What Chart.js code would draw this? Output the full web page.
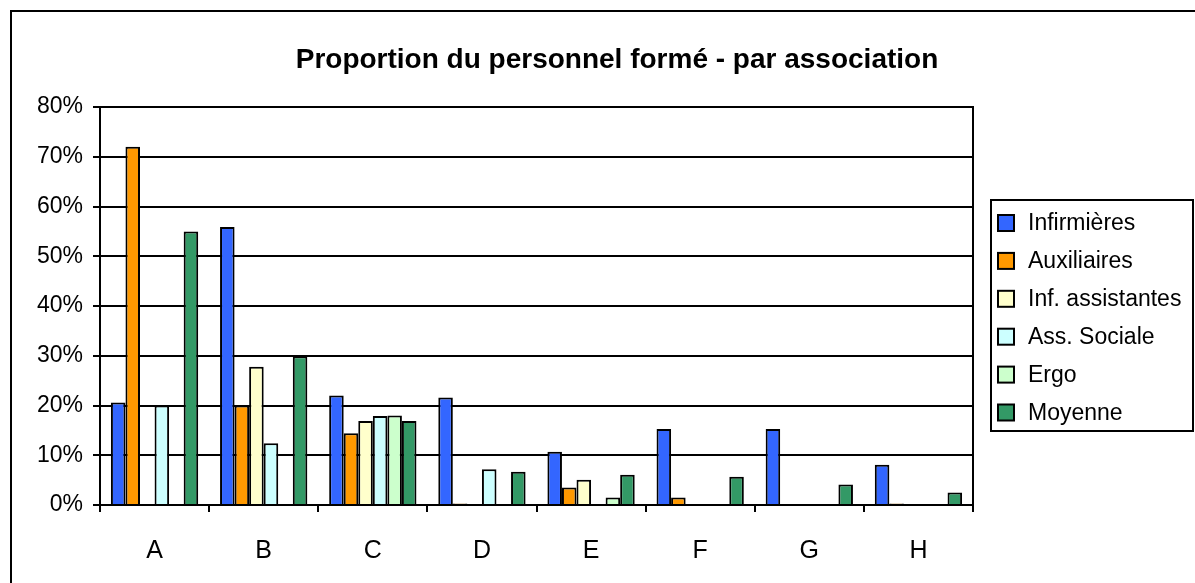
<!DOCTYPE html>
<html>
<head>
<meta charset="utf-8">
<script src="https://cdn.jsdelivr.net/npm/chart.js@4.4.1/dist/chart.umd.min.js"></script>
<style>
  html, body { margin: 0; padding: 0; background: #fff; }
  #wrap { width: 1195px; height: 583px; position: relative; }
</style>
</head>
<body>
<div id="wrap"><canvas id="formChart" width="1195" height="583"></canvas></div>
<script>
const associations = ['A', 'B', 'C', 'D', 'E', 'F', 'G', 'H'];
const yTicks = [0, 0.1, 0.2, 0.3, 0.4, 0.5, 0.6, 0.7, 0.8];

// proportions (null = no bar)
const infirmieres     = [0.206, 0.559, 0.220, 0.216, 0.107, 0.153, 0.153, 0.081];
const auxiliaires     = [0.720, 0.200, 0.144, 0.003, 0.035, 0.015, null, 0.003];
const infAssistantes  = [null, 0.278, 0.169, null, 0.051, null, null, null];
const assSociale      = [0.200, 0.124, 0.179, 0.072, null, null, null, null];
const ergo            = [null, null, 0.180, null, 0.015, null, null, null];
const moyenne         = [0.550, 0.299, 0.169, 0.067, 0.061, 0.057, 0.041, 0.025];

const FONT = '"Liberation Sans", Arial, sans-serif';

// outer frame, plot frame, title and boxed legend
const decor = {
    id: 'decor',
    beforeDraw(chart) {
        const c = chart.ctx;
        c.save();
        c.fillStyle = '#fff';
        c.fillRect(0, 0, chart.width, chart.height);
        c.strokeStyle = '#000';
        c.lineWidth = 2;
        c.strokeRect(11, 11, 1300, 700);
        c.restore();
    },
    afterDraw(chart) {
        const c = chart.ctx;
        const a = chart.chartArea;
        c.save();
        c.strokeStyle = '#000';
        c.lineWidth = 2;
        c.beginPath();
        c.moveTo(a.left, a.top);
        c.lineTo(a.right, a.top);
        c.lineTo(a.right, a.bottom + 7);
        c.stroke();

        c.fillStyle = '#000';
        c.font = 'bold 28px ' + FONT;
        c.textAlign = 'center';
        c.textBaseline = 'alphabetic';
        c.fillText('Proportion du personnel formé - par association', 617, 68);

        // legend
        c.lineWidth = 2;
        c.strokeRect(991, 200, 202, 231);
        c.font = '23px ' + FONT;
        c.textAlign = 'left';
        c.textBaseline = 'middle';
        chart.data.datasets.forEach((ds, i) => {
            const y = 223 + i * 37.9;
            c.fillStyle = ds.backgroundColor;
            c.fillRect(998, y - 8, 16, 16);
            c.lineWidth = 2;
            c.strokeRect(998, y - 8, 16, 16);
            c.fillStyle = '#000';
            c.fillText(ds.label, 1028, y + 1);
        });
        c.restore();
    }
};

function ds(label, data, color) {
    return {
        label: label,
        data: data,
        backgroundColor: color,
        borderColor: '#000',
        borderWidth: 2,
        categoryPercentage: 0.8,
        barPercentage: 1.0
    };
}

new Chart(document.getElementById('formChart').getContext('2d'), {
    type: 'bar',
    data: {
        labels: associations,
        datasets: [
            ds('Infirmières', infirmieres, '#3366FF'),
            ds('Auxiliaires', auxiliaires, '#FF9900'),
            ds('Inf. assistantes', infAssistantes, '#FFFFCC'),
            ds('Ass. Sociale', assSociale, '#CCFFFF'),
            ds('Ergo', ergo, '#CCFFCC'),
            ds('Moyenne', moyenne, '#339966')
        ]
    },
    options: {
        responsive: false,
        animation: false,
        layout: { padding: { left: 10, top: 107, right: 222, bottom: 0 } },
        plugins: {
            legend: { display: false },
            title: { display: false },
            tooltip: { enabled: false }
        },
        scales: {
            x: {
                grid: {
                    display: true,
                    drawOnChartArea: false,
                    drawTicks: true,
                    tickLength: 7,
                    color: '#000',
                    lineWidth: 2
                },
                border: { display: true, color: '#000', width: 2 },
                ticks: {
                    color: '#000',
                    font: { family: FONT, size: 25 },
                    padding: 24
                },
                afterFit(axis) { axis.height = 78; }
            },
            y: {
                min: 0,
                max: 0.8,
                afterBuildTicks(axis) { axis.ticks = yTicks.map(v => ({ value: v })); },
                grid: {
                    color: '#000',
                    lineWidth: 2,
                    tickLength: 7,
                    drawTicks: true
                },
                border: { display: true, color: '#000', width: 2 },
                ticks: {
                    color: '#000',
                    font: { family: FONT, size: 23 },
                    padding: 10,
                    callback: v => Math.round(v * 100) + '%'
                },
                afterFit(axis) { axis.width = 90; }
            }
        }
    },
    plugins: [decor]
});
</script>
</body>
</html>
